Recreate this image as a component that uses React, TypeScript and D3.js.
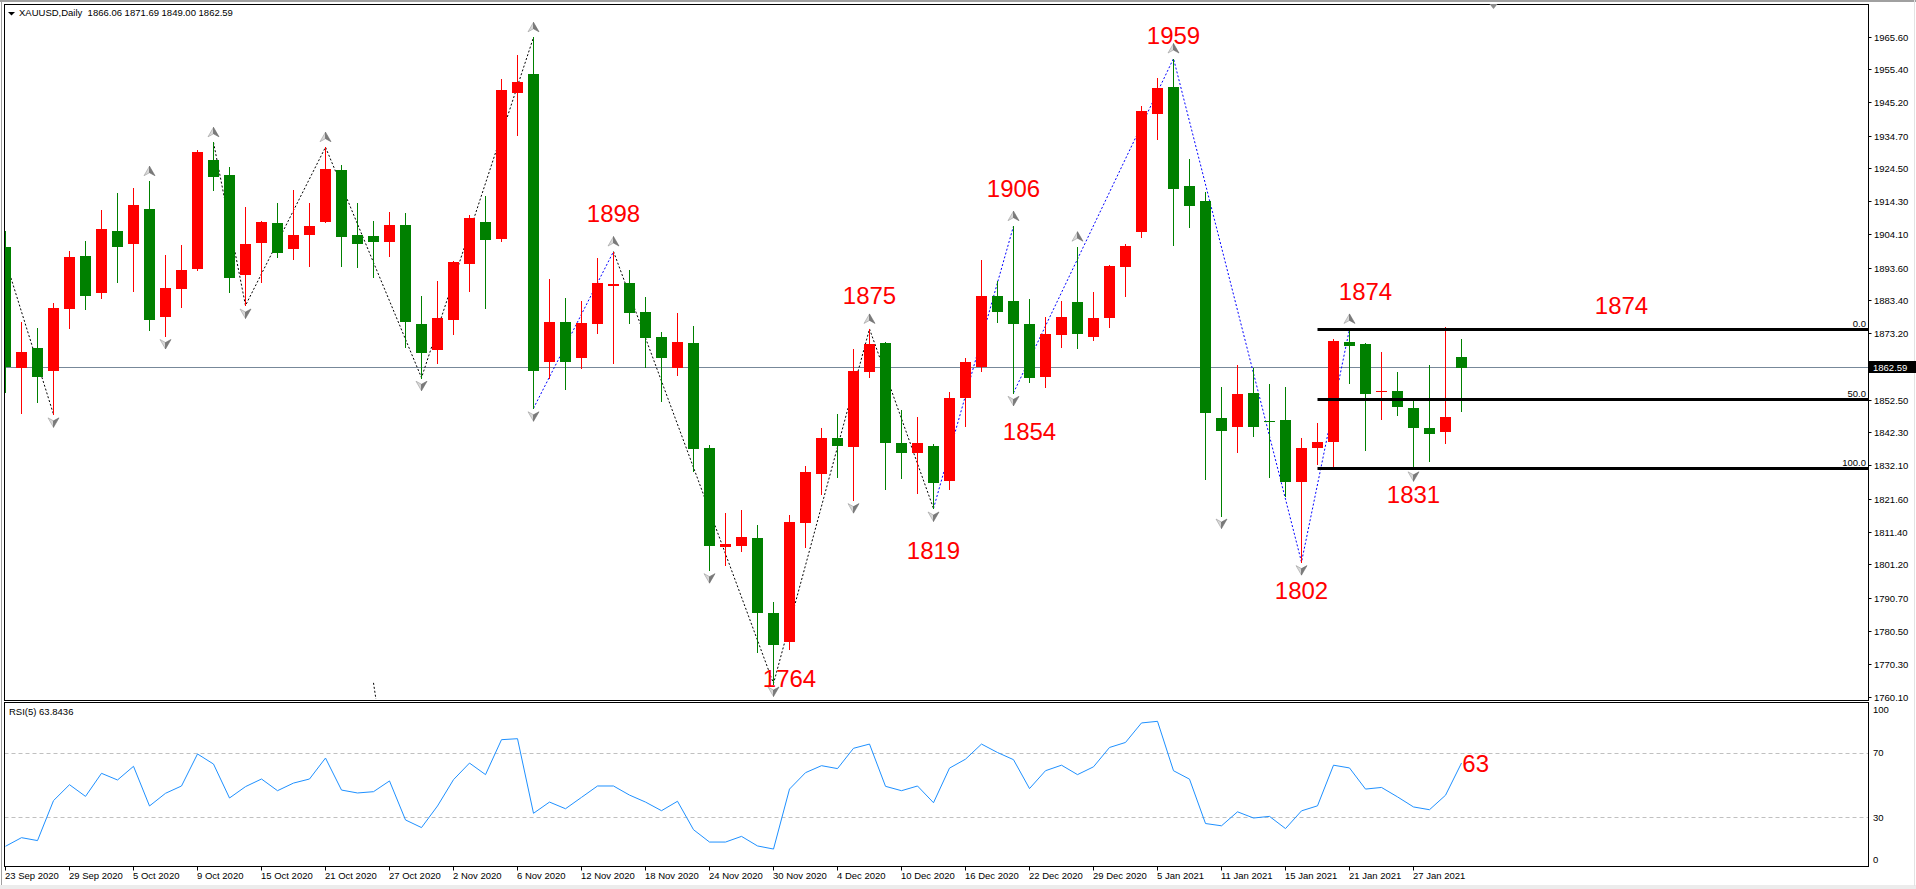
import React from 'react';
import * as d3 from 'd3';

// ---------- data ----------
const dates = [
  '2020-09-23','2020-09-24','2020-09-25','2020-09-28','2020-09-29','2020-09-30',
  '2020-10-01','2020-10-02','2020-10-05','2020-10-06','2020-10-07','2020-10-08','2020-10-09','2020-10-12','2020-10-13','2020-10-14','2020-10-15','2020-10-16','2020-10-19','2020-10-20','2020-10-21','2020-10-22','2020-10-23','2020-10-26','2020-10-27','2020-10-28','2020-10-29','2020-10-30',
  '2020-11-02','2020-11-03','2020-11-04','2020-11-05','2020-11-06','2020-11-09','2020-11-10','2020-11-11','2020-11-12','2020-11-13','2020-11-16','2020-11-17','2020-11-18','2020-11-19','2020-11-20','2020-11-23','2020-11-24','2020-11-25','2020-11-26','2020-11-27','2020-11-30',
  '2020-12-01','2020-12-02','2020-12-03','2020-12-04','2020-12-07','2020-12-08','2020-12-09','2020-12-10','2020-12-11','2020-12-14','2020-12-15','2020-12-16','2020-12-17','2020-12-18','2020-12-21','2020-12-22','2020-12-23','2020-12-24','2020-12-28','2020-12-29','2020-12-30','2020-12-31',
  '2021-01-04','2021-01-05','2021-01-06','2021-01-07','2021-01-08','2021-01-11','2021-01-12','2021-01-13','2021-01-14','2021-01-15','2021-01-18','2021-01-19','2021-01-20','2021-01-21','2021-01-22','2021-01-25','2021-01-26','2021-01-27','2021-01-28','2021-01-29',
  '2021-02-01'
];

const opens = [
  1900.1,1862.4,1868.7,1861.6,1880.9,1897.5,1886.0,1905.2,1901.2,1911.9,
  1878.5,1887.2,1893.4,1927.3,1922.6,1891.5,1901.5,1907.6,1899.5,1903.9,
  1908.1,1924.2,1903.8,1903.6,1901.9,1907.2,1876.1,1868.1,1877.5,1894.9,
  1907.9,1902.6,1948.1,1954.1,1864.5,1877.0,1865.5,1876.3,1888.0,1888.9,
  1880.1,1872.3,1862.4,1870.2,1837.5,1806.8,1807.1,1809.7,1786.3,1777.2,
  1814.2,1829.6,1840.6,1837.9,1861.4,1870.2,1839.1,1836.1,1838.4,1827.3,
  1853.1,1862.9,1885.1,1883.5,1876.1,1859.8,1872.8,1883.0,1872.3,1878.0,
  1893.9,1905.0,1941.7,1949.9,1919.2,1914.5,1846.9,1844.3,1854.6,1846.0,
  1846.5,1827.0,1837.7,1839.6,1870.7,1869.9,1855.0,1855.5,1850.0,1843.8,
  1842.5,1866.06
];
const highs = [
  1905.3,1876.8,1874.9,1882.7,1898.9,1902.0,1911.7,1916.9,1918.5,1920.7,
  1897.7,1900.7,1930.4,1932.8,1925.0,1912.6,1908.4,1913.8,1918.1,1913.8,
  1931.3,1925.7,1913.8,1908.3,1911.0,1910.7,1884.9,1889.6,1896.0,1910.3,
  1916.0,1952.4,1960.0,1965.5,1890.3,1884.2,1883.5,1896.7,1898.8,1893.0,
  1884.6,1873.7,1879.6,1875.7,1838.7,1817.5,1818.3,1813.5,1789.8,1816.8,
  1832.1,1843.9,1848.2,1868.5,1874.7,1870.7,1849.6,1847.4,1838.9,1855.2,
  1865.5,1896.2,1889.6,1906.7,1883.9,1878.4,1883.5,1900.3,1886.3,1894.5,
  1901.0,1944.2,1952.7,1958.9,1927.5,1917.4,1856.5,1863.6,1862.6,1857.6,
  1856.7,1840.6,1845.3,1871.6,1874.7,1870.4,1867.6,1861.4,1852.6,1863.6,
  1875.4,1871.69
];
const lows = [
  1855.2,1848.4,1851.9,1848.1,1875.1,1880.8,1884.4,1889.2,1886.6,1874.4,
  1872.5,1881.6,1893.0,1918.1,1886.3,1882.0,1889.2,1897.2,1896.5,1894.3,
  1907.9,1894.3,1893.9,1891.0,1897.4,1869.2,1859.5,1864.2,1873.2,1886.6,
  1881.3,1902.2,1935.1,1850.0,1859.5,1856.0,1862.4,1873.3,1864.0,1876.6,
  1862.9,1852.2,1860.3,1830.4,1799.6,1801.2,1805.5,1774.2,1764.3,1775.2,
  1806.7,1823.2,1828.7,1821.4,1859.8,1824.9,1828.4,1823.5,1818.8,1824.9,
  1844.4,1861.6,1876.8,1854.8,1858.3,1856.6,1869.2,1868.7,1871.2,1875.4,
  1885.1,1903.3,1933.9,1900.8,1906.5,1828.0,1816.6,1836.5,1841.3,1828.7,
  1822.8,1802.1,1832.5,1831.8,1857.8,1837.0,1846.7,1847.9,1831.3,1833.5,
  1839.2,1849.00
];
const closes = [
  1862.9,1867.4,1859.7,1881.1,1897.0,1885.1,1905.7,1900.1,1913.3,1877.5,
  1887.3,1893.2,1929.7,1922.1,1890.6,1901.0,1907.9,1898.2,1903.8,1906.7,
  1924.4,1903.4,1901.2,1901.9,1907.2,1877.0,1867.3,1878.0,1895.6,1909.1,
  1902.4,1949.1,1951.5,1861.6,1877.0,1864.5,1876.4,1888.9,1888.6,1879.7,
  1872.0,1865.5,1870.7,1837.3,1807.1,1807.6,1810.0,1786.1,1776.3,1814.7,
  1830.3,1840.6,1838.2,1861.7,1869.9,1839.2,1836.1,1839.2,1826.6,1853.1,
  1864.3,1885.1,1880.1,1876.3,1859.5,1873.0,1878.4,1873.2,1878.0,1894.3,
  1900.5,1942.5,1949.6,1918.3,1913.1,1848.4,1842.9,1854.3,1844.3,1845.7,
  1827.1,1837.5,1839.6,1871.1,1869.4,1854.3,1855.3,1850.3,1843.9,1842.0,
  1847.2,1862.59
];

const rsiValues = [
  12.6,17.9,16.1,40.7,50.5,43.3,57.5,53.4,61.8,37.4,
  45.2,49.7,69.4,63.2,42.3,49.3,54.0,46.8,51.5,54.0,
  66.9,47.2,45.4,46.2,52.8,28.8,24.1,37.4,53.6,63.8,
  56.7,78.2,78.8,32.9,39.8,35.7,42.7,49.7,49.7,44.1,
  39.8,34.5,40.3,22.8,15.2,15.2,18.7,12.8,10.9,47.8,
  57.9,62.2,60.4,72.9,75.5,49.5,46.8,49.7,39.4,60.7,
  66.2,75.5,70.3,65.9,48.1,59.1,62.5,56.7,61.5,73.4,
  76.5,88.5,89.5,59.1,53.9,26.6,25.2,33.8,30.0,31.0,
  23.5,34.4,37.5,62.5,60.8,47.8,48.8,43.0,36.8,35.1,
  44.0,63.84
];

const priceTicks = [1965.60,1955.40,1945.20,1934.70,1924.50,1914.30,1904.10,1893.60,1883.40,1873.20,
  1852.50,1842.30,1832.10,1821.60,1811.40,1801.20,1790.70,1780.50,1770.30,1760.10];
const rsiTicks = [100, 70, 30, 0];
const rsiLevels = [70, 30];

const currentPrice = 1862.59;
const title = 'XAUUSD,Daily  1866.06 1871.69 1849.00 1862.59';
const rsiTitle = 'RSI(5) 63.8436';

// zigzag vertices [bar, price]
const zigBlackA = [[-1, 1912.0], [3, 1848.1]];
const zigBlackB = [[13, 1932.8], [15, 1882.0], [20, 1931.3], [26, 1859.5], [33, 1965.5]];
const zigBlueA = [[33, 1850.0], [38, 1898.8]];
const zigBlackC = [[38, 1898.8], [48, 1764.3], [54, 1874.7], [58, 1818.8]];
const zigBlueB = [[58, 1818.8], [63, 1906.7]];
const zigBlueC = [[63, 1854.8], [73, 1958.9], [81, 1802.1], [84, 1874.7]];
const zigBlackStub = [[23, 1764.5], [23.15, 1759.5]];

const upArrowBars = [9, 13, 20, 33, 38, 54, 63, 67, 73, 84];
const downArrowBars = [3, 10, 15, 26, 33, 44, 48, 53, 58, 63, 76, 81, 88];

// red annotations: label, bar, price (baseline)
const noteLabels = ['1898', '1875', '1764', '1906', '1854', '1819', '1959', '1874', '1802', '1831', '1874'];
const noteBars = [38, 54, 49, 63, 64, 58, 73, 85, 81, 88, 101];
const notePrices = [1908.0, 1882.5, 1763.2, 1915.8, 1840.1, 1803.1, 1963.4, 1883.7, 1790.6, 1820.5, 1879.2];
const rsiNote = { label: '63', bar: 91.05, value: 58.3 };

// fibonacci
const fibHighBar = 84;
const fibLowBar = 88;
const fibStartBar = 82;
const fibLevels = [0, 50, 100];

const W = 1916, H = 889;
const FONT = "'Liberation Sans', Arial, sans-serif";

export default function App() {
  const xScale = d3.scaleLinear().domain([0, 91]).range([5.5, 1461.5]);
  const yScale = d3.scaleLinear().domain([1760.1, 1965.6]).range([697, 37]);
  const rsiScale = d3.scaleLinear().domain([0, 100]).range([866.75, 704.25]);
  const parse = d3.timeParse('%Y-%m-%d');
  const fmt = d3.timeFormat('%-d %b %Y');

  const left = 4.5, right = 1868.5, mainTop = 4.5, mainBottom = 700.5;
  const rsiTop = 702.5, rsiBottom = 866.5;
  const crisp = (v: number) => Math.round(v - 0.5) + 0.5;

  const zigLine = d3.line<number[]>().x(d => xScale(d[0])).y(d => yScale(d[1]));
  const rsiLine = d3.line<number>().x((_, i) => xScale(i)).y(d => rsiScale(d));

  const fibHigh = highs[fibHighBar];
  const fibLow = lows[fibLowBar];
  const fibPrice = (lvl: number) => fibHigh - (fibHigh - fibLow) * lvl / 100;

  const curY = crisp(yScale(currentPrice));

  const arrow = (cx: number, cy: number, up: boolean, key: string) => {
    const s = up ? 1 : -1;
    const tip = cy - 5 * s, base = cy + 4.5 * s, notch = cy + 1.5 * s;
    return (
      <g key={key}>
        <path d={`M${cx},${tip} L${cx},${notch} L${cx - 5.5},${base} Z`} fill="#d9d9d9" stroke="#9a9a9a" strokeWidth={0.6} />
        <path d={`M${cx},${tip} L${cx + 5.5},${base} L${cx},${notch} Z`} fill="#7a7a7a" stroke="#6a6a6a" strokeWidth={0.6} />
      </g>
    );
  };

  return (
    <div style={{ position: 'fixed', left: 0, top: 0 }}>
      <svg width={W} height={H} style={{ display: 'block', background: '#fff' }} fontFamily={FONT}>
        <defs>
          <clipPath id="mainClip">
            <rect x={5} y={5} width={right - 5} height={mainBottom - 5} />
          </clipPath>
          <clipPath id="rsiClip">
            <rect x={5} y={rsiTop + 0.5} width={right - 5} height={rsiBottom - rsiTop - 1} />
          </clipPath>
        </defs>
        <rect x={0} y={0} width={W} height={H} fill="#ffffff" />
        {/* window frame */}
        <rect x={0} y={0} width={W} height={2} fill="#a0a0a0" />
        <line x1={1.5} y1={0} x2={1.5} y2={886} stroke="#a0a0a0" />
        <rect x={0} y={885} width={W} height={4} fill="#ececec" />
        <line x1={W - 1.5} y1={0} x2={W - 1.5} y2={886} stroke="#e3e3e3" />

        {/* main panel */}
        <g clipPath="url(#mainClip)">
          <line x1={left} x2={right} y1={curY} y2={curY} stroke="#778899" strokeWidth={1} />
          {[zigBlackA, zigBlackB, zigBlackC, zigBlackStub].map((z, k) => (
            <path key={'zb' + k} d={zigLine(z) || ''} fill="none" stroke="#000" strokeWidth={1} strokeDasharray="2 2" />
          ))}
          {[zigBlueA, zigBlueB, zigBlueC].map((z, k) => (
            <path key={'zl' + k} d={zigLine(z) || ''} fill="none" stroke="#0000ff" strokeWidth={1} strokeDasharray="2 2" />
          ))}
          {opens.map((o, i) => {
            const c = closes[i];
            const bull = c >= o;
            const col = bull ? '#ff0000' : '#008000';
            const xc = xScale(i);
            const yT = Math.round(yScale(Math.max(o, c)));
            const yB = Math.round(yScale(Math.min(o, c)));
            return (
              <g key={'c' + i}>
                <line x1={xc} x2={xc} y1={Math.round(yScale(highs[i]))} y2={Math.round(yScale(lows[i])) + 1} stroke={col} strokeWidth={1} />
                <rect x={xc - 5.5} y={yT} width={11} height={Math.max(1, yB - yT)} fill={col} />
              </g>
            );
          })}
          {upArrowBars.map(b => arrow(xScale(b), yScale(highs[b]) - 10, true, 'u' + b))}
          {downArrowBars.map(b => arrow(xScale(b), yScale(lows[b]) + 8, false, 'd' + b))}
          {fibLevels.map(l => {
            const y = Math.round(yScale(fibPrice(l))) + 0.5;
            return (
              <g key={'f' + l}>
                <line x1={xScale(fibStartBar)} x2={right} y1={y} y2={y} stroke="#000" strokeWidth={3} />
                <text x={right - 2.5} y={y - 3} textAnchor="end" fontSize={9.5} fill="#000">{l.toFixed(1)}</text>
              </g>
            );
          })}
          {noteLabels.map((t, k) => (
            <text key={'n' + k} x={xScale(noteBars[k])} y={yScale(notePrices[k])} textAnchor="middle" fontSize={24} fill="#ff0000">{t}</text>
          ))}
        </g>
        <rect x={left} y={mainTop} width={right - left} height={mainBottom - mainTop} fill="none" stroke="#000" />
        {/* chart shift marker */}
        <path d={`M${xScale(93) - 4},4 L${xScale(93) + 4},4 L${xScale(93)},9 Z`} fill="#8c8c8c" />

        {/* title */}
        <path d="M8,12 L15,12 L11.5,15.5 Z" fill="#000" />
        <text x={19} y={16} fontSize={9.5} fill="#000" style={{ whiteSpace: 'pre' }}>{title}</text>

        {/* price axis */}
        {priceTicks.map(v => {
          const y = crisp(yScale(v));
          return (
            <g key={'p' + v}>
              <line x1={right} x2={right + 3} y1={y} y2={y} stroke="#000" />
              <text x={1874} y={y + 3.5} fontSize={9.5} fill="#000">{v.toFixed(2)}</text>
            </g>
          );
        })}
        <rect x={1869} y={curY - 6.5} width={47} height={12} fill="#000" />
        <text x={1873} y={curY + 3.5} fontSize={9.5} fill="#fff">{currentPrice.toFixed(2)}</text>

        {/* RSI panel */}
        <g clipPath="url(#rsiClip)">
          {rsiLevels.map(l => (
            <line key={'rl' + l} x1={left} x2={right} y1={crisp(rsiScale(l))} y2={crisp(rsiScale(l))} stroke="#c0c0c0" strokeDasharray="4 3" />
          ))}
          <path d={rsiLine(rsiValues) || ''} fill="none" stroke="#1e90ff" strokeWidth={1} />
        </g>
        <text x={xScale(rsiNote.bar)} y={rsiScale(rsiNote.value)} fontSize={24} fill="#ff0000">{rsiNote.label}</text>
        <rect x={left} y={rsiTop} width={right - left} height={rsiBottom - rsiTop} fill="none" stroke="#000" />
        <text x={9} y={715} fontSize={9.5} fill="#000">{rsiTitle}</text>
        {rsiTicks.map(v => {
          const yc = Math.min(860, Math.max(709.5, rsiScale(v)));
          return <text key={'rt' + v} x={1873} y={yc + 3.4} fontSize={9.5} fill="#000">{v}</text>;
        })}

        {/* date axis */}
        {dates.map((d, i) => {
          if (i % 4 !== 0) return null;
          const x = xScale(i);
          return (
            <g key={'t' + i}>
              <line x1={x} x2={x} y1={rsiBottom} y2={rsiBottom + 4} stroke="#000" />
              <text x={x - 0.5} y={878.5} fontSize={9.5} fill="#000">{fmt(parse(d) as Date)}</text>
            </g>
          );
        })}
      </svg>
    </div>
  );
}
